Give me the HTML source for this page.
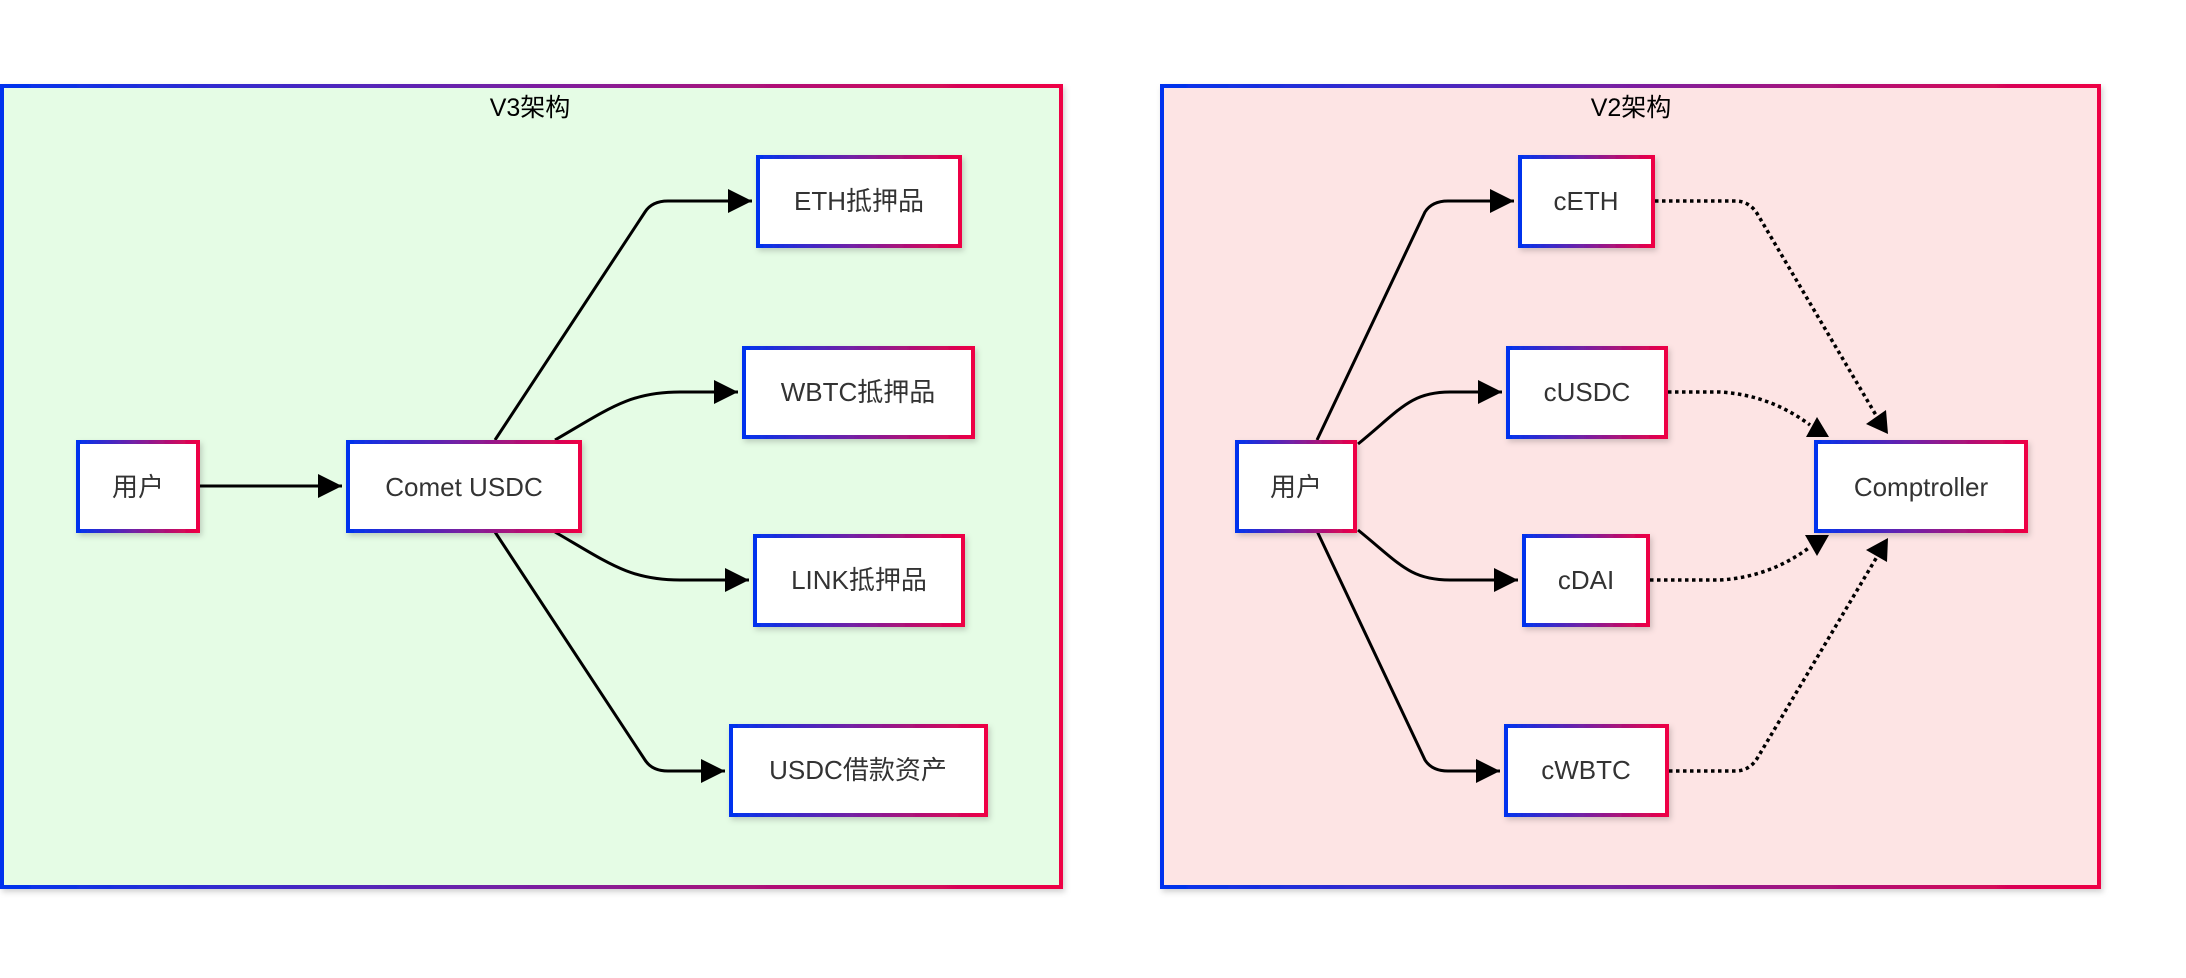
<!DOCTYPE html>
<html><head><meta charset="utf-8"><style>
html,body{margin:0;padding:0;background:#fff;}
body{width:2186px;height:978px;overflow:hidden;}
svg{display:block;}
text{font-family:"Liberation Sans","Noto Sans CJK SC",sans-serif;}
</style></head><body>
<svg width="2186" height="978" viewBox="0 0 2186 978" xmlns="http://www.w3.org/2000/svg">
<defs>
<linearGradient id="g" x1="0" y1="0" x2="1" y2="0">
<stop offset="0" stop-color="#0033ee"/><stop offset="0.5" stop-color="#7a1fa0"/><stop offset="1" stop-color="#ee0044"/>
</linearGradient>
<filter id="sh" x="-10%" y="-10%" width="130%" height="140%"><feDropShadow dx="2" dy="3" stdDeviation="3" flood-color="#000" flood-opacity="0.18"/></filter>
<marker id="a" markerWidth="8" markerHeight="8" refX="8" refY="4" orient="auto" markerUnits="strokeWidth"><path d="M0,0 L8,4 L0,8 z" fill="#000"/></marker>
</defs>
<rect x="2" y="86" width="1059" height="801" fill="#e5fce5" stroke="url(#g)" stroke-width="4" filter="url(#sh)"/>
<text x="530" y="116" font-size="25" text-anchor="middle" fill="#000">V3架构</text>
<rect x="1162" y="86" width="937" height="801" fill="#fde4e4" stroke="url(#g)" stroke-width="4" filter="url(#sh)"/>
<text x="1631" y="116" font-size="25" text-anchor="middle" fill="#000">V2架构</text>

<g fill="none" stroke="#000" stroke-width="3">
<path d="M198,486 L342,486" marker-end="url(#a)"/>
<path d="M495,440 L645,212 Q652,201 668,201 L752,201" marker-end="url(#a)"/>
<path d="M555,440 C610,408 630,392 680,392 L738,392" marker-end="url(#a)"/>
<path d="M555,532 C610,564 630,580 680,580 L749,580" marker-end="url(#a)"/>
<path d="M495,532 L645,760 Q652,771 668,771 L725,771" marker-end="url(#a)"/>
<path d="M1317,440 L1425,212 Q1432,201 1448,201 L1514,201" marker-end="url(#a)"/>
<path d="M1358,444 C1400,410 1410,392 1450,392 L1502,392" marker-end="url(#a)"/>
<path d="M1358,530 C1400,564 1410,580 1450,580 L1518,580" marker-end="url(#a)"/>
<path d="M1317,531 L1425,760 Q1432,771 1448,771 L1500,771" marker-end="url(#a)"/>
</g>
<g fill="none" stroke="#000" stroke-width="3.5" stroke-dasharray="3.5,3.5">
<path d="M1655,201 L1735,201 Q1750,201 1758,215 L1880,422"/>
<path d="M1668,392 L1720,392 Q1770,395 1810,425"/>
<path d="M1650,580 L1720,580 Q1770,577 1810,547"/>
<path d="M1669,771 L1735,771 Q1750,771 1758,757 L1878,555"/>
</g>
<g fill="#000">
<polygon points="1888,434 1866,424 1886,410"/>
<polygon points="1817,417 1806,437 1829,437"/>
<polygon points="1817,556 1805,535 1829,535"/>
<polygon points="1888,538 1866,550 1887,562"/>
</g>

<g stroke="url(#g)" stroke-width="4" fill="#fff" filter="url(#sh)">
<rect x="78" y="442" width="120" height="89"/>
<rect x="348" y="442" width="232" height="89"/>
<rect x="758" y="157" width="202" height="89"/>
<rect x="744" y="348" width="229" height="89"/>
<rect x="755" y="536" width="208" height="89"/>
<rect x="731" y="726" width="255" height="89"/>
<rect x="1237" y="442" width="118" height="89"/>
<rect x="1520" y="157" width="133" height="89"/>
<rect x="1508" y="348" width="158" height="89"/>
<rect x="1524" y="536" width="124" height="89"/>
<rect x="1506" y="726" width="161" height="89"/>
<rect x="1816" y="442" width="210" height="89"/>
</g>
<g font-size="26" fill="#333" text-anchor="middle">
<text x="138" y="496">用户</text>
<text x="464" y="496">Comet USDC</text>
<text x="859" y="210">ETH抵押品</text>
<text x="858" y="401">WBTC抵押品</text>
<text x="859" y="589">LINK抵押品</text>
<text x="858" y="779">USDC借款资产</text>
<text x="1296" y="496">用户</text>
<text x="1586" y="210">cETH</text>
<text x="1587" y="401">cUSDC</text>
<text x="1586" y="589">cDAI</text>
<text x="1586" y="779">cWBTC</text>
<text x="1921" y="496">Comptroller</text>
</g>
</svg>
</body></html>
